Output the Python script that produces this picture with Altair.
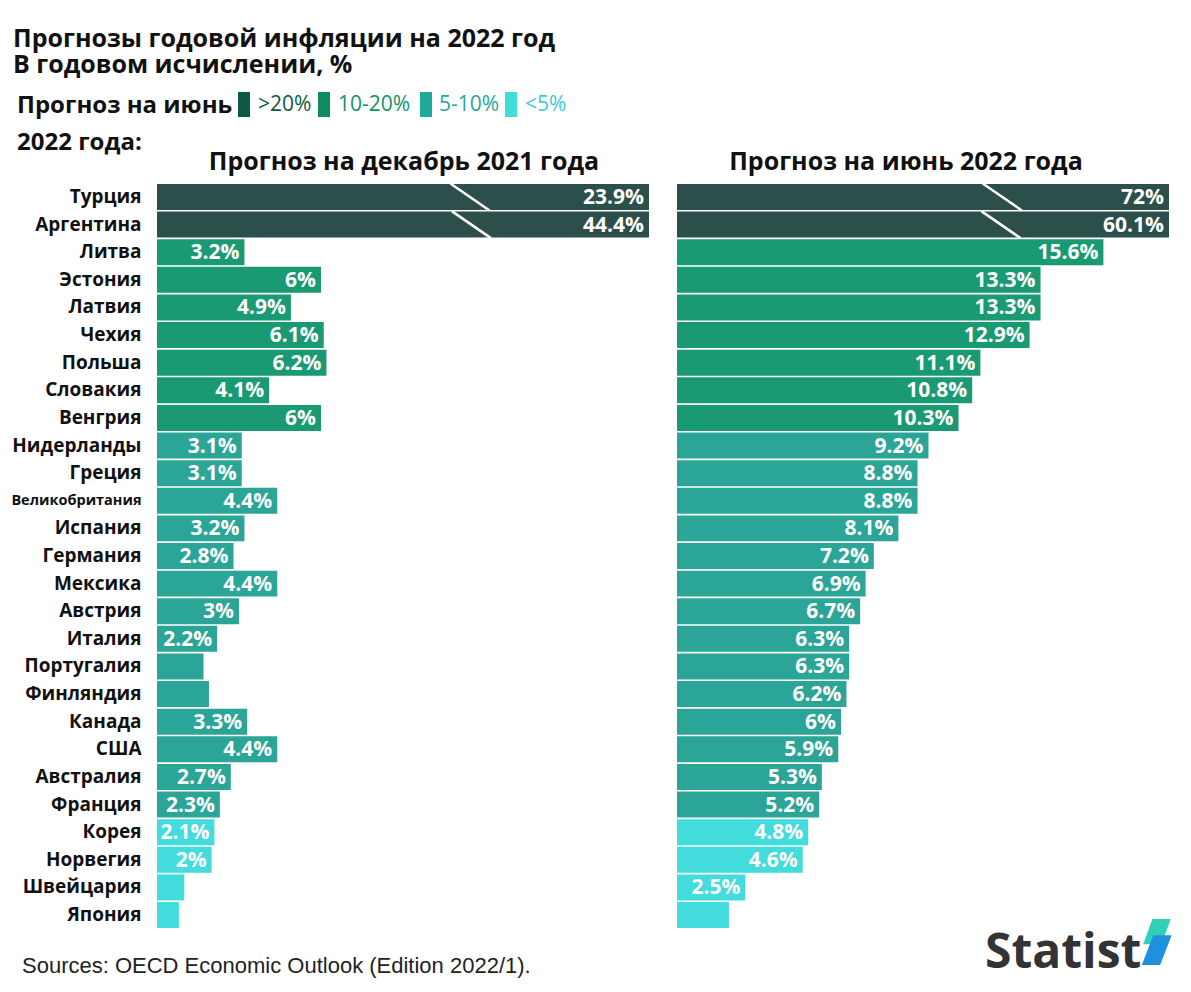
import altair as alt
import pandas as pd

# ---------------- data ----------------
countries = ["Турция", "Аргентина", "Литва", "Эстония", "Латвия", "Чехия", "Польша",
             "Словакия", "Венгрия", "Нидерланды", "Греция", "Великобритания", "Испания",
             "Германия", "Мексика", "Австрия", "Италия", "Португалия", "Финляндия",
             "Канада", "США", "Австралия", "Франция", "Корея", "Норвегия", "Швейцария",
             "Япония"]
dec2021 = [23.9, 44.4, 3.2, 6, 4.9, 6.1, 6.2, 4.1, 6, 3.1, 3.1, 4.4, 3.2, 2.8, 4.4, 3,
           2.2, 1.7, 1.9, 3.3, 4.4, 2.7, 2.3, 2.1, 2, 1.0, 0.8]
jun2022 = [72, 60.1, 15.6, 13.3, 13.3, 12.9, 11.1, 10.8, 10.3, 9.2, 8.8, 8.8, 8.1, 7.2,
           6.9, 6.7, 6.3, 6.3, 6.2, 6, 5.9, 5.3, 5.2, 4.8, 4.6, 2.5, 1.9]

categories = [">20%", "10-20%", "5-10%", "<5%"]
bar_colors = ["#2d4f4b", "#1a9a72", "#2ba597", "#42dcdc"]
legend_box_colors = ["#0c5a43", "#0f8c60", "#22a898", "#40dcdc"]
legend_text_colors = ["#0c5a43", "#11936a", "#2aa79b", "#3fc9d6"]

break_countries = ["Турция", "Аргентина"]
break_dec = [11.45, 11.5]
break_jun = [11.9, 11.85]

title_lines = ["Прогнозы годовой инфляции на 2022 год", "В годовом исчислении, %"]
legend_title = "Прогноз на июнь"
legend_title2 = "2022 года:"
panel_titles = ["Прогноз на декабрь 2021 года", "Прогноз на июнь 2022 года"]
source_text = "Sources: OECD Economic Outlook (Edition 2022/1)."
brand_text = "Statist"


def category(v):
    if v > 20:
        return categories[0]
    if v >= 10:
        return categories[1]
    if v >= 5:
        return categories[2]
    return categories[3]


cats = [category(v) for v in jun2022]

W = 492
H = 744
FONT = "Open Sans"


def txt(text, x, y, size, bold=True, color="#111111", align="left", font=FONT, opacity=1):
    return alt.Chart(pd.DataFrame({"t": [text]})).mark_text(
        align=align, baseline="alphabetic", font=font,
        fontWeight="bold" if bold else "normal",
        fontSize=size, color=color, opacity=opacity).encode(
        x=alt.value(x), y=alt.value(y), text="t:N")


def panel(values, breaks, title, left, title_x):
    df = pd.DataFrame({"country": countries, "value": values, "cat": cats})
    bdf = pd.DataFrame({"country": break_countries, "pos": breaks})

    if left:
        yaxis = alt.Axis(domain=False, ticks=False, labelPadding=16, labelFont=FONT,
                         labelFontWeight="bold", labelColor="#111111",
                         labelFontSize=alt.condition("datum.value == 'Великобритания'",
                                                     alt.value(14.5), alt.value(19)),
                         labelLimit=300, title=None)
    else:
        yaxis = None
    y = alt.Y("country:N", sort=countries,
              scale=alt.Scale(paddingInner=0.06, paddingOuter=0.0), axis=yaxis, title=None)
    xs = alt.Scale(domain=[0, 18], clamp=True, nice=False, zero=True)

    bars = alt.Chart(df).mark_bar().encode(
        x=alt.X("value:Q", scale=xs, axis=None),
        y=y,
        color=alt.Color("cat:N", scale=alt.Scale(domain=categories, range=bar_colors),
                        legend=None),
    )
    labels = alt.Chart(df).transform_filter("datum.value >= 2").transform_calculate(
        lbl="format(datum.value, '.1~f') + '%'"
    ).mark_text(align="right", baseline="middle", dx=-5, dy=1, color="white", font=FONT,
                fontWeight="bold", fontSize=21).encode(
        x=alt.X("value:Q", scale=xs, axis=None), y=y, text="lbl:N")
    brk = alt.Chart(bdf).mark_point(shape="M -1.45 -1 L 1.45 1", filled=False,
                                    color="white", strokeWidth=2.5, size=729,
                                    opacity=1).encode(
        x=alt.X("pos:Q", scale=xs, axis=None), y=y)

    layers = [bars, labels, brk,
              txt(title, title_x, -14, 25, align="center")]

    if left:
        layers += [
            txt(title_lines[0], -144, -137, 25),
            txt(title_lines[1], -144, -111, 25),
            txt(legend_title, -140, -71, 24),
            txt(legend_title2, -140, -34, 24),
        ]
        box_x = [81, 161, 263, 348]
        txt_x = [101, 181, 282, 368]
        for i in range(4):
            box = alt.Chart(pd.DataFrame({"c": [categories[i]]})).mark_rect(
                color=legend_box_colors[i]).encode(
                x=alt.value(box_x[i]), x2=alt.value(box_x[i] + 12),
                y=alt.value(-92), y2=alt.value(-67))
            layers += [box, txt(categories[i], txt_x[i], -73, 21, bold=False,
                                color=legend_text_colors[i])]
        layers.append(txt(source_text, -135, 789, 22, bold=False, color="#222222",
                          font="Liberation Sans"))
    else:
        ghost = txt(".", 0, -137, 25, opacity=0)
        brand = txt(brand_text, 308, 784, 48, color="#333333")
        leaf1 = alt.Chart(pd.DataFrame({"t": ["a"]})).mark_point(
            shape="M -0.2 -1 L 0.6 -1 L 0.2 0.1 L -0.6 0.1 Z", filled=True,
            color="#2fd0b5", size=2100, opacity=1).encode(
            x=alt.value(480), y=alt.value(758))
        leaf2 = alt.Chart(pd.DataFrame({"t": ["a"]})).mark_point(
            shape="M 0.1 -0.3 L 0.9 -0.3 L 0.4 1 L -0.4 1 Z", filled=True,
            color="#1f8fe0", size=2100, opacity=1).encode(
            x=alt.value(474), y=alt.value(758))
        layers = [ghost] + layers + [brand, leaf1, leaf2]

    return alt.layer(*layers).properties(width=W, height=H)


left = panel(dec2021, break_dec, panel_titles[0], True, 247)
right = panel(jun2022, break_jun, panel_titles[1], False, 229)

chart = alt.hconcat(left, right, spacing=28).properties(
    padding={"left": 10, "top": 27, "right": 10, "bottom": 5},
    background="white",
).configure_view(stroke=None)

chart.save("out.html", embed_options={"renderer": "svg", "actions": False})
